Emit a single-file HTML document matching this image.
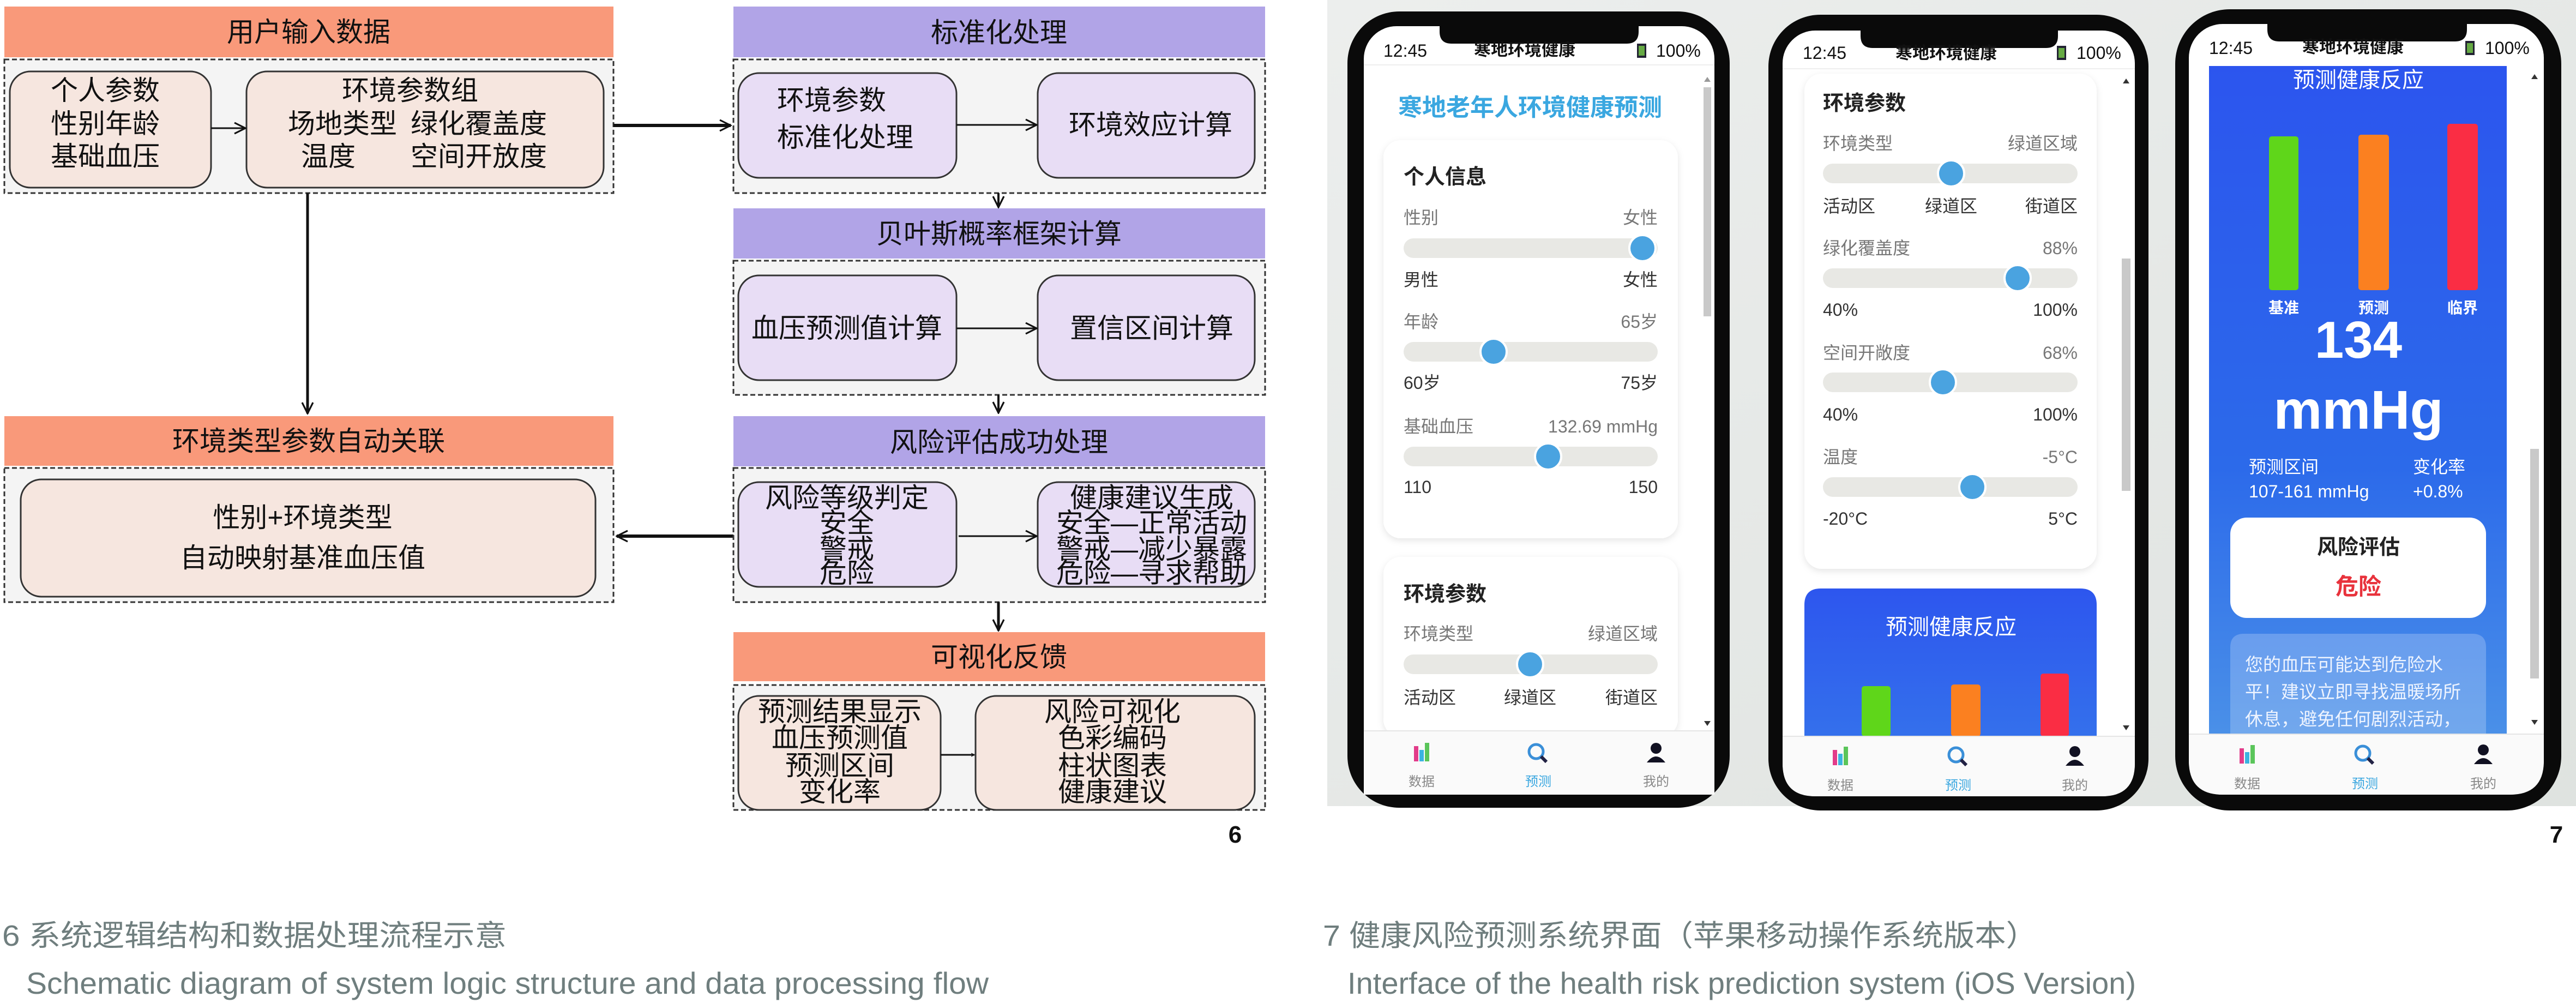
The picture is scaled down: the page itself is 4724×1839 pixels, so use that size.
<!DOCTYPE html>
<html><head><meta charset="utf-8">
<style>
html,body{margin:0;padding:0;background:#fff;}
svg{display:block;}
text{font-family:"Liberation Sans","Noto Sans CJK SC",sans-serif;}
</style></head>
<body>
<svg width="4724" height="1839" viewBox="0 0 4724 1839" xmlns="http://www.w3.org/2000/svg">
<defs>
<marker id="ah" viewBox="0 0 12 12" refX="11" refY="6" markerWidth="7" markerHeight="7" orient="auto" markerUnits="userSpaceOnUse">
<path d="M1,1 L11,6 L1,11" fill="none" stroke="#111" stroke-width="2"/>
</marker>
<marker id="ahs" viewBox="0 0 12 12" refX="11" refY="6" markerWidth="24" markerHeight="24" orient="auto" markerUnits="userSpaceOnUse">
<path d="M1,1 L11,6 L1,11" fill="none" stroke="#111" stroke-width="1.6"/>
</marker>
<linearGradient id="bg" x1="0" y1="0" x2="1" y2="1">
<stop offset="0" stop-color="#eceeed"/><stop offset="1" stop-color="#dfe3e0"/>
</linearGradient>
<linearGradient id="blue" x1="0" y1="0" x2="0" y2="1">
<stop offset="0" stop-color="#2c55ee"/><stop offset="0.6" stop-color="#2c6aea"/><stop offset="1" stop-color="#4a90e8"/>
</linearGradient>
<linearGradient id="blue2" x1="0" y1="0" x2="0" y2="1">
<stop offset="0" stop-color="#2d56ee"/><stop offset="1" stop-color="#3470ec"/>
</linearGradient>
<filter id="sh" x="-10%" y="-10%" width="120%" height="120%"><feDropShadow dx="0" dy="4" stdDeviation="6" flood-color="#000" flood-opacity="0.10"/></filter>
</defs>

<!-- ============ LEFT DIAGRAM ============ -->
<g font-size="50" fill="#111" text-anchor="middle">
<!-- header 1 -->
<rect x="8" y="12" width="1117" height="93" fill="#f9997a"/>
<text x="566" y="76">用户输入数据</text>
<rect x="8" y="109" width="1117" height="245" fill="#f4f4f4" stroke="#333" stroke-width="3" stroke-dasharray="9,5"/>
<rect x="18" y="131" width="369" height="213" rx="38" fill="#f6e6df" stroke="#333" stroke-width="3"/>
<text x="193" y="183">个人参数</text>
<text x="193" y="244">性别年龄</text>
<text x="193" y="304">基础血压</text>
<rect x="452" y="131" width="655" height="213" rx="38" fill="#f6e6df" stroke="#333" stroke-width="3"/>
<text x="752" y="183">环境参数组</text>
<text x="628" y="244">场地类型</text><text x="878" y="244">绿化覆盖度</text>
<text x="602" y="304">温度</text><text x="878" y="304">空间开放度</text>
<line x1="387" y1="235" x2="450" y2="235" stroke="#111" stroke-width="3" marker-end="url(#ahs)"/>

<!-- big arrow right -->
<line x1="1125" y1="230" x2="1340" y2="230" stroke="#111" stroke-width="6" marker-end="url(#ahs)"/>
<!-- vertical arrow -->
<line x1="564" y1="354" x2="564" y2="758" stroke="#111" stroke-width="5" marker-end="url(#ahs)"/>

<!-- header 2 -->
<rect x="8" y="763" width="1117" height="91" fill="#f9997a"/>
<text x="566" y="826">环境类型参数自动关联</text>
<rect x="8" y="858" width="1117" height="246" fill="#f4f4f4" stroke="#333" stroke-width="3" stroke-dasharray="9,5"/>
<rect x="38" y="879" width="1054" height="215" rx="38" fill="#f6e6df" stroke="#333" stroke-width="3"/>
<text x="555" y="966">性别+环境类型</text>
<text x="555" y="1040">自动映射基准血压值</text>
<line x1="1349" y1="983" x2="1131" y2="983" stroke="#111" stroke-width="6" marker-end="url(#ahs)"/>

<!-- right column -->
<rect x="1345" y="12" width="975" height="93" fill="#b1a4e7"/>
<text x="1832" y="77">标准化处理</text>
<rect x="1345" y="109" width="975" height="245" fill="#f4f4f4" stroke="#333" stroke-width="3" stroke-dasharray="9,5"/>
<rect x="1354" y="134" width="400" height="192" rx="38" fill="#e8ddf5" stroke="#333" stroke-width="3"/>
<text x="1425" y="201" text-anchor="start">环境参数</text>
<text x="1425" y="269" text-anchor="start">标准化处理</text>
<rect x="1903" y="134" width="398" height="192" rx="38" fill="#e8ddf5" stroke="#333" stroke-width="3"/>
<text x="2110" y="246">环境效应计算</text>
<line x1="1754" y1="229" x2="1901" y2="229" stroke="#111" stroke-width="3" marker-end="url(#ahs)"/>
<line x1="1831" y1="354" x2="1831" y2="380" stroke="#111" stroke-width="4" marker-end="url(#ahs)"/>

<rect x="1345" y="382" width="975" height="92" fill="#b1a4e7"/>
<text x="1832" y="446">贝叶斯概率框架计算</text>
<rect x="1345" y="478" width="975" height="246" fill="#f4f4f4" stroke="#333" stroke-width="3" stroke-dasharray="9,5"/>
<rect x="1354" y="505" width="400" height="192" rx="38" fill="#e8ddf5" stroke="#333" stroke-width="3"/>
<text x="1553" y="619">血压预测值计算</text>
<rect x="1903" y="505" width="398" height="192" rx="38" fill="#e8ddf5" stroke="#333" stroke-width="3"/>
<text x="2112" y="619">置信区间计算</text>
<line x1="1754" y1="602" x2="1901" y2="602" stroke="#111" stroke-width="3" marker-end="url(#ahs)"/>
<line x1="1831" y1="724" x2="1831" y2="757" stroke="#111" stroke-width="4" marker-end="url(#ahs)"/>

<rect x="1345" y="763" width="975" height="92" fill="#b1a4e7"/>
<text x="1832" y="828">风险评估成功处理</text>
<rect x="1345" y="858" width="975" height="246" fill="#f4f4f4" stroke="#333" stroke-width="3" stroke-dasharray="9,5"/>
<rect x="1354" y="884" width="400" height="192" rx="38" fill="#e8ddf5" stroke="#333" stroke-width="3"/>
<text x="1553" y="930">风险等级判定</text>
<text x="1553" y="976">安全</text>
<text x="1553" y="1024">警戒</text>
<text x="1553" y="1068">危险</text>
<rect x="1903" y="884" width="398" height="192" rx="38" fill="#e8ddf5" stroke="#333" stroke-width="3"/>
<text x="2112" y="930">健康建议生成</text>
<text x="2112" y="976">安全—正常活动</text>
<text x="2112" y="1024">警戒—减少暴露</text>
<text x="2112" y="1068">危险—寻求帮助</text>
<line x1="1758" y1="983" x2="1901" y2="983" stroke="#111" stroke-width="3" marker-end="url(#ahs)"/>
<line x1="1831" y1="1104" x2="1831" y2="1156" stroke="#111" stroke-width="5" marker-end="url(#ahs)"/>

<rect x="1345" y="1159" width="975" height="90" fill="#f9997a"/>
<text x="1832" y="1222">可视化反馈</text>
<rect x="1345" y="1256" width="975" height="229" fill="#f4f4f4" stroke="#333" stroke-width="3" stroke-dasharray="9,5"/>
<rect x="1354" y="1276" width="371" height="209" rx="38" fill="#f6e6df" stroke="#333" stroke-width="3"/>
<text x="1540" y="1322">预测结果显示</text>
<text x="1540" y="1370">血压预测值</text>
<text x="1540" y="1421">预测区间</text>
<text x="1540" y="1469">变化率</text>
<rect x="1789" y="1276" width="512" height="209" rx="38" fill="#f6e6df" stroke="#333" stroke-width="3"/>
<text x="2040" y="1322">风险可视化</text>
<text x="2040" y="1370">色彩编码</text>
<text x="2040" y="1421">柱状图表</text>
<text x="2040" y="1469">健康建议</text>
<line x1="1725" y1="1384" x2="1787" y2="1384" stroke="#111" stroke-width="3" marker-end="url(#ah)"/>
</g>

<text x="2265" y="1545" font-size="44" font-weight="bold" text-anchor="middle" fill="#111">6</text>
<text x="4688" y="1545" font-size="44" font-weight="bold" text-anchor="middle" fill="#111">7</text>

<!-- captions -->
<g fill="#6f7e7e">
<text x="4" y="1734" font-size="54" textLength="925" lengthAdjust="spacingAndGlyphs">6 系统逻辑结构和数据处理流程示意</text>
<text x="48" y="1822" font-size="56" textLength="1765" lengthAdjust="spacingAndGlyphs">Schematic diagram of system logic structure and data processing flow</text>
<text x="2426" y="1734" font-size="54" textLength="1310" lengthAdjust="spacingAndGlyphs">7 健康风险预测系统界面（苹果移动操作系统版本）</text>
<text x="2471" y="1822" font-size="56" textLength="1446" lengthAdjust="spacingAndGlyphs">Interface of the health risk prediction system (iOS Version)</text>
</g>

<!-- ============ PHONES ============ -->
<rect x="2434" y="0" width="2290" height="1478" fill="url(#bg)"/>

<!-- PHONE 1 -->
<g>
<rect x="2471" y="21" width="701" height="1460" rx="95" fill="#0a0a0a"/>
<rect x="2501" y="48" width="643" height="1409" rx="60" fill="#ffffff"/>
<path d="M2640,48 L3005,48 L3005,58 Q3005,80 2983,80 L2662,80 Q2640,80 2640,58 Z" fill="#0a0a0a"/>
<rect x="2501" y="118" width="643" height="2" fill="#eeeeee"/>
<text x="2537" y="104" font-size="32" fill="#111">12:45</text>
<text x="2796" y="102" font-size="31" font-weight="bold" fill="#111" text-anchor="middle">寒地环境健康</text>
<rect x="3002" y="80" width="17" height="26" fill="#223" /><rect x="3005" y="84" width="11" height="18" fill="#6a4"/>
<text x="3037" y="104" font-size="32" fill="#111">100%</text>
<rect x="3124" y="160" width="14" height="420" fill="#c9c9c9"/>
<path d="M3125,150 L3137,150 L3131,141 Z" fill="#999"/>
<path d="M3125,1322 L3137,1322 L3131,1331 Z" fill="#333"/>
<text x="2806" y="212" font-size="44" font-weight="bold" fill="#3aa7e0" text-anchor="middle">寒地老年人环境健康预测</text>
<rect x="2537" y="257" width="540" height="730" rx="32" fill="#fff" filter="url(#sh)"/>
<g font-size="32" fill="#777">
<text x="2574" y="337" font-size="38" font-weight="bold" fill="#222">个人信息</text>
<text x="2574" y="410">性别</text><text x="3040" y="410" text-anchor="end">女性</text>
<rect x="2574" y="437" width="466" height="36" rx="18" fill="#e8e8e4"/>
<circle cx="3012" cy="455" r="24" fill="#4aa3e0" stroke="#fff" stroke-width="4"/>
<text x="2574" y="524" fill="#333">男性</text><text x="3040" y="524" fill="#333" text-anchor="end">女性</text>
<text x="2574" y="601">年龄</text><text x="3040" y="601" text-anchor="end">65岁</text>
<rect x="2574" y="627" width="466" height="36" rx="18" fill="#e8e8e4"/>
<circle cx="2739" cy="645" r="24" fill="#4aa3e0" stroke="#fff" stroke-width="4"/>
<text x="2574" y="713" fill="#333">60岁</text><text x="3040" y="713" fill="#333" text-anchor="end">75岁</text>
<text x="2574" y="793">基础血压</text><text x="3040" y="793" text-anchor="end">132.69 mmHg</text>
<rect x="2574" y="819" width="466" height="36" rx="18" fill="#e8e8e4"/>
<circle cx="2839" cy="837" r="24" fill="#4aa3e0" stroke="#fff" stroke-width="4"/>
<text x="2574" y="904" fill="#333">110</text><text x="3040" y="904" fill="#333" text-anchor="end">150</text>
</g>
<rect x="2537" y="1021" width="540" height="330" rx="32" fill="#fff" filter="url(#sh)"/>
<g font-size="32" fill="#777">
<text x="2574" y="1102" font-size="38" font-weight="bold" fill="#222">环境参数</text>
<text x="2574" y="1173">环境类型</text><text x="3040" y="1173" text-anchor="end">绿道区域</text>
<rect x="2574" y="1200" width="466" height="36" rx="18" fill="#e8e8e4"/>
<circle cx="2806" cy="1218" r="24" fill="#4aa3e0" stroke="#fff" stroke-width="4"/>
<text x="2574" y="1290" fill="#333">活动区</text><text x="2806" y="1290" fill="#333" text-anchor="middle">绿道区</text><text x="3040" y="1290" fill="#333" text-anchor="end">街道区</text>
</g>
<rect x="2501" y="1340" width="643" height="117" fill="#fafafa"/>
<path d="M2501,1340 L3144,1340 L3144,1397 Q3144,1457 3084,1457 L2561,1457 Q2501,1457 2501,1397 Z" fill="#fafafa"/>
<line x1="2501" y1="1340" x2="3144" y2="1340" stroke="#e5e5e5" stroke-width="2"/>
<rect x="2593" y="1368" width="8" height="28" fill="#e23c8a"/><rect x="2603" y="1375" width="8" height="21" fill="#3bb3e0"/><rect x="2613" y="1362" width="8" height="34" fill="#5ac55a"/>
<circle cx="2817" cy="1378" r="13" fill="none" stroke="#3a8fd8" stroke-width="5"/><line x1="2826" y1="1387" x2="2836" y2="1397" stroke="#224" stroke-width="6"/>
<circle cx="3037" cy="1372" r="10" fill="#112"/><path d="M3020,1398 Q3037,1376 3054,1398 Z" fill="#112"/>
<text x="2607" y="1441" font-size="24" fill="#888" text-anchor="middle">数据</text>
<text x="2821" y="1441" font-size="24" fill="#3aa7e0" text-anchor="middle">预测</text>
<text x="3037" y="1441" font-size="24" fill="#888" text-anchor="middle">我的</text>
</g>

<!-- PHONE 2 -->
<g>
<rect x="3243" y="27" width="697" height="1459" rx="95" fill="#0a0a0a"/>
<rect x="3269" y="56" width="646" height="1404" rx="60" fill="#ffffff"/>
<path d="M3412,56 L3774,56 L3774,66 Q3774,88 3752,88 L3434,88 Q3412,88 3412,66 Z" fill="#0a0a0a"/>
<rect x="3269" y="125" width="646" height="2" fill="#eeeeee"/>
<text x="3306" y="108" font-size="32" fill="#111">12:45</text>
<text x="3569" y="108" font-size="31" font-weight="bold" fill="#111" text-anchor="middle">寒地环境健康</text>
<rect x="3772" y="84" width="17" height="26" fill="#223"/><rect x="3775" y="88" width="11" height="18" fill="#6a4"/>
<text x="3808" y="108" font-size="32" fill="#111">100%</text>
<rect x="3891" y="474" width="16" height="426" fill="#c9c9c9"/>
<path d="M3893,153 L3905,153 L3899,144 Z" fill="#333"/>
<path d="M3893,1330 L3905,1330 L3899,1339 Z" fill="#333"/>
<rect x="3309" y="135" width="536" height="908" rx="32" fill="#fff" filter="url(#sh)"/>
<g font-size="32" fill="#777">
<text x="3343" y="202" font-size="38" font-weight="bold" fill="#222">环境参数</text>
<text x="3343" y="274">环境类型</text><text x="3810" y="274" text-anchor="end">绿道区域</text>
<rect x="3343" y="300" width="467" height="36" rx="18" fill="#e8e8e4"/>
<circle cx="3578" cy="318" r="24" fill="#4aa3e0" stroke="#fff" stroke-width="4"/>
<text x="3343" y="389" fill="#333">活动区</text><text x="3578" y="389" fill="#333" text-anchor="middle">绿道区</text><text x="3810" y="389" fill="#333" text-anchor="end">街道区</text>
<text x="3343" y="466">绿化覆盖度</text><text x="3810" y="466" text-anchor="end">88%</text>
<rect x="3343" y="492" width="467" height="36" rx="18" fill="#e8e8e4"/>
<circle cx="3700" cy="510" r="24" fill="#4aa3e0" stroke="#fff" stroke-width="4"/>
<text x="3343" y="579" fill="#333">40%</text><text x="3810" y="579" fill="#333" text-anchor="end">100%</text>
<text x="3343" y="658">空间开敞度</text><text x="3810" y="658" text-anchor="end">68%</text>
<rect x="3343" y="683" width="467" height="36" rx="18" fill="#e8e8e4"/>
<circle cx="3563" cy="701" r="24" fill="#4aa3e0" stroke="#fff" stroke-width="4"/>
<text x="3343" y="771" fill="#333">40%</text><text x="3810" y="771" fill="#333" text-anchor="end">100%</text>
<text x="3343" y="849">温度</text><text x="3810" y="849" text-anchor="end">-5°C</text>
<rect x="3343" y="875" width="467" height="36" rx="18" fill="#e8e8e4"/>
<circle cx="3617" cy="893" r="24" fill="#4aa3e0" stroke="#fff" stroke-width="4"/>
<text x="3343" y="962" fill="#333">-20°C</text><text x="3810" y="962" fill="#333" text-anchor="end">5°C</text>
</g>
<path d="M3309,1350 L3309,1109 Q3309,1079 3339,1079 L3815,1079 Q3845,1079 3845,1109 L3845,1350 Z" fill="url(#blue2)"/>
<text x="3578" y="1163" font-size="40" fill="#fff" text-anchor="middle">预测健康反应</text>
<rect x="3414" y="1258" width="53" height="92" rx="5" fill="#5fd61a"/>
<rect x="3578" y="1255" width="54" height="95" rx="5" fill="#fb8020"/>
<rect x="3742" y="1235" width="52" height="115" rx="5" fill="#fa2d44"/>
<path d="M3269,1350 L3915,1350 L3915,1400 Q3915,1460 3855,1460 L3329,1460 Q3269,1460 3269,1400 Z" fill="#fafafa"/>
<line x1="3269" y1="1350" x2="3915" y2="1350" stroke="#e5e5e5" stroke-width="2"/>
<rect x="3361" y="1375" width="8" height="28" fill="#e23c8a"/><rect x="3371" y="1382" width="8" height="21" fill="#3bb3e0"/><rect x="3381" y="1369" width="8" height="34" fill="#5ac55a"/>
<circle cx="3587" cy="1384" r="13" fill="none" stroke="#3a8fd8" stroke-width="5"/><line x1="3596" y1="1393" x2="3606" y2="1403" stroke="#224" stroke-width="6"/>
<circle cx="3805" cy="1378" r="10" fill="#112"/><path d="M3788,1404 Q3805,1382 3822,1404 Z" fill="#112"/>
<text x="3375" y="1448" font-size="24" fill="#888" text-anchor="middle">数据</text>
<text x="3591" y="1448" font-size="24" fill="#3aa7e0" text-anchor="middle">预测</text>
<text x="3805" y="1448" font-size="24" fill="#888" text-anchor="middle">我的</text>
</g>

<!-- PHONE 3 -->
<g>
<rect x="3989" y="17" width="708" height="1469" rx="100" fill="#0a0a0a"/>
<rect x="4014" y="44" width="651" height="1413" rx="62" fill="#ffffff"/>
<path d="M4158,44 L4524,44 L4524,54 Q4524,76 4502,76 L4180,76 Q4158,76 4158,54 Z" fill="#0a0a0a"/>
<text x="4051" y="99" font-size="32" fill="#111">12:45</text>
<text x="4315" y="97" font-size="31" font-weight="bold" fill="#111" text-anchor="middle">寒地环境健康</text>
<rect x="4521" y="75" width="17" height="26" fill="#223"/><rect x="4524" y="79" width="11" height="18" fill="#6a4"/>
<text x="4557" y="99" font-size="32" fill="#111">100%</text>
<rect x="4051" y="121" width="546" height="1225" fill="url(#blue)"/>
<rect x="4640" y="823" width="16" height="421" fill="#c9c9c9"/>
<path d="M4642,145 L4654,145 L4648,136 Z" fill="#333"/>
<path d="M4642,1320 L4654,1320 L4648,1329 Z" fill="#333"/>
<text x="4325" y="160" font-size="40" fill="#fff" text-anchor="middle">预测健康反应</text>
<rect x="4161" y="250" width="54" height="282" rx="5" fill="#5fd61a"/>
<rect x="4325" y="247" width="56" height="285" rx="5" fill="#fb8020"/>
<rect x="4488" y="227" width="56" height="305" rx="5" fill="#fa2d44"/>
<g font-size="28" font-weight="bold" fill="#fff" text-anchor="middle">
<text x="4188" y="574">基准</text><text x="4353" y="574">预测</text><text x="4516" y="574">临界</text>
</g>
<text x="4325" y="656" font-size="96" font-weight="bold" fill="#fff" text-anchor="middle">134</text>
<text x="4325" y="786" font-size="100" font-weight="bold" fill="#fff" text-anchor="middle">mmHg</text>
<g font-size="32" fill="#fff">
<text x="4124" y="867">预测区间</text><text x="4124" y="912">107-161 mmHg</text>
<text x="4425" y="867">变化率</text><text x="4425" y="912">+0.8%</text>
</g>
<rect x="4090" y="949" width="469" height="184" rx="30" fill="#fff"/>
<text x="4325" y="1016" font-size="38" font-weight="bold" fill="#222" text-anchor="middle">风险评估</text>
<text x="4325" y="1090" font-size="42" font-weight="bold" fill="#e8323c" text-anchor="middle">危险</text>
<path d="M4090,1346 L4090,1187 Q4090,1162 4115,1162 L4534,1162 Q4559,1162 4559,1187 L4559,1346 Z" fill="#ffffff" fill-opacity="0.22"/>
<g font-size="33" fill="#eef4ff">
<text x="4117" y="1230">您的血压可能达到危险水</text>
<text x="4117" y="1280">平！建议立即寻找温暖场所</text>
<text x="4117" y="1330">休息，避免任何剧烈活动，</text>
</g>
<path d="M4014,1346 L4665,1346 L4665,1395 Q4665,1457 4603,1457 L4076,1457 Q4014,1457 4014,1395 Z" fill="#fafafa"/>
<line x1="4014" y1="1346" x2="4665" y2="1346" stroke="#e5e5e5" stroke-width="2"/>
<rect x="4107" y="1372" width="8" height="28" fill="#e23c8a"/><rect x="4117" y="1379" width="8" height="21" fill="#3bb3e0"/><rect x="4127" y="1366" width="8" height="34" fill="#5ac55a"/>
<circle cx="4333" cy="1381" r="13" fill="none" stroke="#3a8fd8" stroke-width="5"/><line x1="4342" y1="1390" x2="4352" y2="1400" stroke="#224" stroke-width="6"/>
<circle cx="4554" cy="1375" r="10" fill="#112"/><path d="M4537,1401 Q4554,1379 4571,1401 Z" fill="#112"/>
<text x="4121" y="1445" font-size="24" fill="#888" text-anchor="middle">数据</text>
<text x="4337" y="1445" font-size="24" fill="#3aa7e0" text-anchor="middle">预测</text>
<text x="4554" y="1445" font-size="24" fill="#888" text-anchor="middle">我的</text>
</g>
</svg>
</body></html>
